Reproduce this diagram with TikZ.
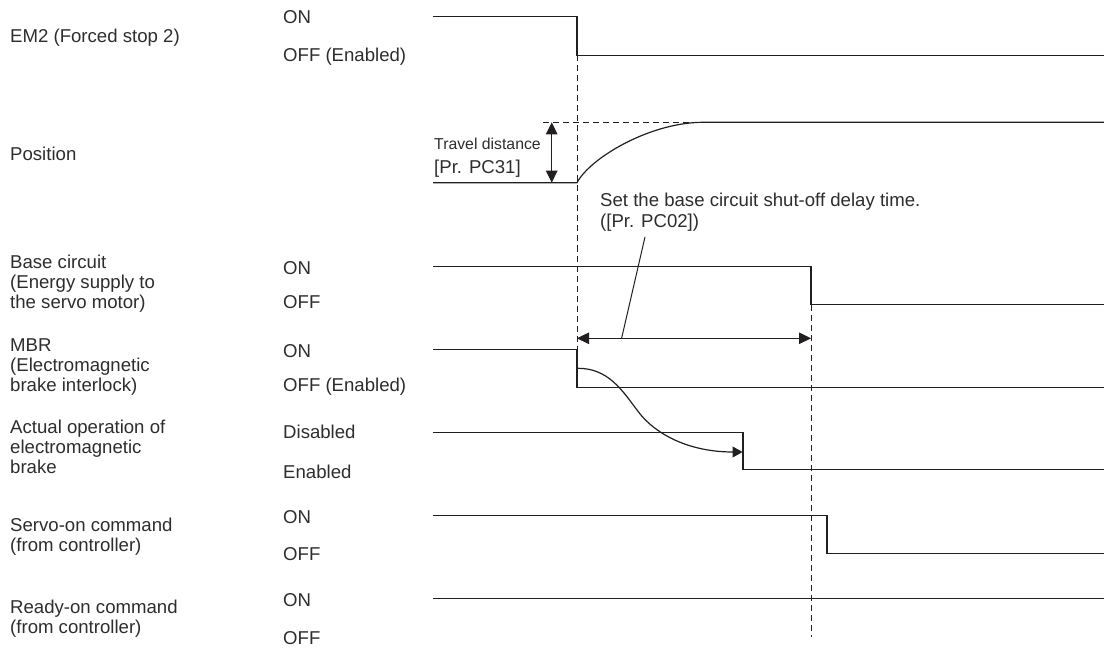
\documentclass[tikz,border=0pt]{standalone}
\usepackage{fontspec}
\setmainfont{Liberation Sans}
\usetikzlibrary{arrows.meta}
\definecolor{ink}{RGB}{35,31,32}
\definecolor{txt}{RGB}{45,45,45}
\begin{document}
\begin{tikzpicture}[x=1pt,y=-1pt,
  lab/.style={anchor=base west,inner sep=0pt,text=txt,font=\fontsize{18.6}{19.8}\selectfont},
  smalllab/.style={lab,font=\fontsize{15.8}{18}\selectfont},
  sig/.style={draw=ink,line width=1.2pt},
  guide/.style={draw=ink,line width=1pt,dash pattern=on 6pt off 4pt},
  leader/.style={draw=ink,line width=1pt},
  >={Triangle[length=12pt,width=11.5pt]}]
\useasboundingbox (0,0) rectangle (1104,650);

% ---------------- labels (left column) ----------------
\node[lab] (l1) at (10,42.8) {EM2 (Forced stop 2)};
\node[lab] (l2) at (10,161) {Position};
\node[lab] (l3a) at (10,268.5) {Base circuit};
\node[lab] (l3b) at (10,288.4) {(Energy supply to};
\node[lab] (l3c) at (10,308.3) {the servo motor)};
\node[lab] (l4a) at (10,351.7) {MBR};
\node[lab] (l4b) at (10,371.5) {(Electromagnetic};
\node[lab] (l4c) at (10,391.4) {brake interlock)};
\node[lab] (l5a) at (10,433.3) {Actual operation of};
\node[lab] (l5b) at (10,453.2) {electromagnetic};
\node[lab] (l5c) at (10,473.5) {brake};
\node[lab] (l6a) at (10,531.7) {Servo-on command};
\node[lab] (l6b) at (10,551.5) {(from controller)};
\node[lab] (l7a) at (10,613.3) {Ready-on command};
\node[lab] (l7b) at (10,633.1) {(from controller)};

% ---------------- state labels ----------------
\node[lab] (s1h) at (283,23.5) {ON};
\node[lab] (s1l) at (283,62) {OFF (Enabled)};
\node[lab] (s3h) at (283,274.3) {ON};
\node[lab] (s3l) at (283,308.3) {OFF};
\node[lab] (s4h) at (283,357) {ON};
\node[lab] (s4l) at (283,391.7) {OFF (Enabled)};
\node[lab] (s5h) at (283,438.3) {Disabled};
\node[lab] (s5l) at (283,478) {Enabled};
\node[lab] (s6h) at (283,523.3) {ON};
\node[lab] (s6l) at (283,560.7) {OFF};
\node[lab] (s7h) at (283,606.7) {ON};
\node[lab] (s7l) at (283,644) {OFF};

% ---------------- annotations ----------------
\node[smalllab] (td1) at (434,149.3) {Travel distance};
\node[lab] (td2) at (434,173.5) {[Pr. PC31]};
\node[lab] (bd1) at (600,207) {Set the base circuit shut-off delay time.};
\node[lab] (bd2) at (600,227.5) {([Pr. PC02])};

% ---------------- coordinates ----------------
\coordinate (e0) at (433,16.5);  \coordinate (e1) at (577,16.5);
\coordinate (e2) at (577,55.5);  \coordinate (e3) at (1104,55.5);
\coordinate (p0) at (433,182.7); \coordinate (p1) at (577,182.7);
\coordinate (p2) at (703,122.3); \coordinate (p3) at (1104,122.3);
\coordinate (t0) at (543,122.3);
\coordinate (ta) at (551.7,122.3); \coordinate (tb) at (551.7,182.7);
\coordinate (b0) at (433,266.5); \coordinate (b1) at (811,266.5);
\coordinate (b2) at (811,304.5); \coordinate (b3) at (1104,304.5);
\coordinate (d0) at (577,338.3); \coordinate (d1) at (811,338.3);
\coordinate (ld0) at (645,237);  \coordinate (ld1) at (621.6,338.3);
\coordinate (m0) at (433,349.3); \coordinate (m1) at (577,349.3);
\coordinate (m2) at (577,387.3); \coordinate (m3) at (1104,387.3);
\coordinate (a0) at (433,432.7); \coordinate (a1) at (743,432.7);
\coordinate (a2) at (743,469.5); \coordinate (a3) at (1104,469.5);
\coordinate (c0) at (578,368.3); \coordinate (cm) at (637,410);
\coordinate (c1) at (742.5,452);
\coordinate (v0) at (433,515.7); \coordinate (v1) at (827,515.7);
\coordinate (v2) at (827,553.3); \coordinate (v3) at (1104,553.3);
\coordinate (r0) at (433,598.3); \coordinate (r1) at (1104,598.3);
\coordinate (g1) at (811,637);

% ---------------- guides ----------------
\draw[guide] (e2) -- (m1);
\draw[guide] (b2) -- (g1);
\draw[guide] (t0) -- (p2);

% ---------------- signals ----------------
\draw[sig] (e0) -- (e1) -- (e2) -- (e3);
\draw[sig] (p0) -- (p1) .. controls (590,158) and (650,122.3) .. (p2) -- (p3);
\draw[sig] (b0) -- (b1) -- (b2) -- (b3);
\draw[sig] (m0) -- (m1) -- (m2) -- (m3);
\draw[sig] (a0) -- (a1) -- (a2) -- (a3);
\draw[sig] (v0) -- (v1) -- (v2) -- (v3);
\draw[sig] (r0) -- (r1);

% ---------------- arrows ----------------
\draw[sig,<->] (ta) -- (tb);
\draw[sig,<->] (d0) -- (d1);
\draw[leader] (ld0) -- (ld1);
\draw[sig,->,>={Triangle[length=10pt,width=11pt]}] (c0) .. controls (608,368.3) and (622,390) .. (cm)
  .. controls (655,435) and (690,452) .. (c1);
\end{tikzpicture}
\end{document}
